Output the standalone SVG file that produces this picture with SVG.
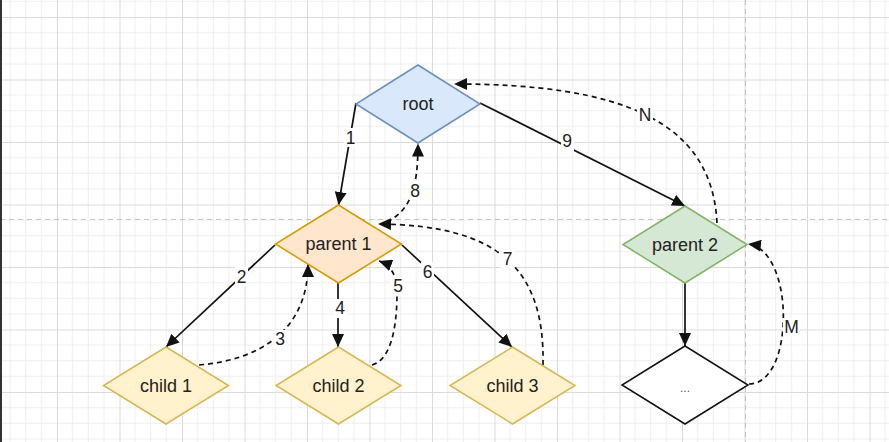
<svg xmlns="http://www.w3.org/2000/svg" width="889" height="442" viewBox="0 0 889 442">
<style>
.node{stroke-width:1.5}
.nt{font-family:"Liberation Sans",Arial,sans-serif;font-size:18px;fill:#222;text-anchor:middle;dominant-baseline:central}
.el{font-family:"Liberation Sans",Arial,sans-serif;font-size:17.5px;fill:#222;text-anchor:middle;dominant-baseline:central}
.e{fill:none;stroke:#111;stroke-width:1.7}
.d{stroke-dasharray:5 4}
.lb{fill:#fff}
</style>
<defs>
<pattern id="g" patternUnits="userSpaceOnUse" x="57" y="17" width="62.5" height="62.5">
<path d="M15.625 0V62.5M31.25 0V62.5M46.875 0V62.5M0 15.625H62.5M0 31.25H62.5M0 46.875H62.5" stroke="#eeeeee" stroke-width="1" fill="none"/>
<path d="M0.5 0V62.5M0 0.5H62.5" stroke="#dadada" stroke-width="1" fill="none"/>
</pattern>
<marker id="a" markerWidth="14" markerHeight="12" refX="13" refY="6" orient="auto" markerUnits="userSpaceOnUse">
<path d="M0 0L13 6L0 12Z" fill="#111"/>
</marker>
</defs>
<rect width="889" height="442" fill="#fff"/>
<rect width="889" height="442" fill="url(#g)"/>
<line x1="0" y1="219.5" x2="889" y2="219.5" stroke="#c4c4c4" stroke-dasharray="5 4"/>
<line x1="745.5" y1="0" x2="745.5" y2="442" stroke="#c4c4c4" stroke-dasharray="5 4"/>
<rect x="0" y="0" width="2" height="442" fill="#333"/>

<g id="connectors">
<path class="e" d="M356 103L338.5 205" marker-end="url(#a)"/>
<path class="e d" d="M387 222C410 210 418 190 418 143.5" marker-end="url(#a)"/>
<path class="e" d="M480 103L685 206" marker-end="url(#a)"/>
<path class="e d" d="M717 223C712 120 620 84 454 84" marker-end="url(#a)"/>
<path class="e" d="M275 245L166 347" marker-end="url(#a)"/>
<path class="e d" d="M199 365C260 360 308 330 308 264" marker-end="url(#a)"/>
<path class="e" d="M338 283L338 347" marker-end="url(#a)"/>
<path class="e d" d="M372 365C398 358 397 300 397 290C397 275 390 265 379 261" marker-end="url(#a)"/>
<path class="e" d="M402 245L512 347" marker-end="url(#a)"/>
<path class="e d" d="M543 365C545 270 500 225 378 224" marker-end="url(#a)"/>
<path class="e" d="M685 283L685 346" marker-end="url(#a)"/>
<path class="e d" d="M749 384C795 384 795 250 748 244" marker-end="url(#a)"/>
<rect class="lb" x="344" y="128" width="13" height="19"/><text class="el" x="350.5" y="138">1</text>
<rect class="lb" x="409" y="181" width="13" height="19"/><text class="el" x="415" y="191">8</text>
<rect class="lb" x="561" y="132" width="13" height="19"/><text class="el" x="567" y="141">9</text>
<rect class="lb" x="637" y="105" width="16" height="19"/><text class="el" x="645" y="115">N</text>
<rect class="lb" x="235" y="267" width="13" height="19"/><text class="el" x="241.5" y="277">2</text>
<rect class="lb" x="274" y="330" width="13" height="19"/><text class="el" x="280" y="339">3</text>
<rect class="lb" x="334" y="299" width="13" height="19"/><text class="el" x="340" y="308">4</text>
<rect class="lb" x="391" y="277" width="13" height="19"/><text class="el" x="398" y="286">5</text>
<rect class="lb" x="421" y="262" width="13" height="19"/><text class="el" x="427.5" y="272">6</text>
<rect class="lb" x="501" y="249" width="13" height="19"/><text class="el" x="507.5" y="259">7</text>
<rect class="lb" x="783" y="318" width="17" height="19"/><text class="el" x="791.5" y="327">M</text>
</g>

<g id="root"><path class="node" d="M418 65L480 104L418 143L356 104Z" fill="#dae8fc" stroke="#6c8ebf"/><text class="nt" x="418" y="104">root</text></g>
<g id="parent1"><path class="node" d="M338.5 205L401.5 244L338.5 283L275.5 244Z" fill="#ffe6cc" stroke="#d79b00"/><text class="nt" x="338.5" y="244">parent 1</text></g>
<g id="parent2"><path class="node" d="M685 206L747 244.5L685 283L623 244.5Z" fill="#d5e8d4" stroke="#82b366"/><text class="nt" x="685" y="244.5">parent 2</text></g>
<g id="child1"><path class="node" d="M166 347L228.5 385.5L166 424L103.5 385.5Z" fill="#fff2cc" stroke="#d6b656"/><text class="nt" x="166" y="385.5">child 1</text></g>
<g id="child2"><path class="node" d="M338.5 347L401 385.5L338.5 424L276 385.5Z" fill="#fff2cc" stroke="#d6b656"/><text class="nt" x="338.5" y="385.5">child 2</text></g>
<g id="child3"><path class="node" d="M512.5 347L575 385.5L512.5 424L450 385.5Z" fill="#fff2cc" stroke="#d6b656"/><text class="nt" x="512.5" y="385.5">child 3</text></g>
<g id="more"><path class="node" d="M685 346L748 385L685 424L622 385Z" fill="#fff" stroke="#111"/><text class="nt" x="685" y="388" style="font-size:12px;fill:#555">...</text></g>
</svg>
